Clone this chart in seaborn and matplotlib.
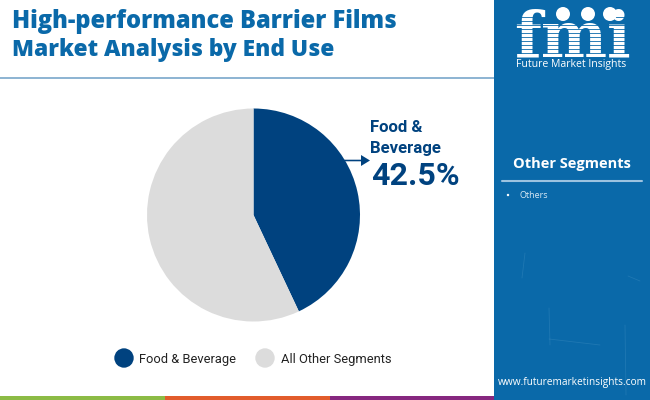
import matplotlib
matplotlib.use("Agg")
import matplotlib.pyplot as plt
from matplotlib.patches import Rectangle, Circle, FancyArrow
from matplotlib.lines import Line2D
import seaborn as sns

categories = ["Food & Beverage", "All Other Segments"]
values = [43.0, 57.0]  # wedge sizes
colors = ["#00427f", "#dcdcdc"]
title_lines = ["High-performance Barrier Films", "Market Analysis by End Use"]
panel_heading = "Other Segments"
panel_items = ["Others"]
callout = ["Food &", "Beverage"]
callout_value = "42.5%"

sns.set_theme(style="white")
plt.rcParams["font.family"] = ["Roboto", "DejaVu Sans"]

BLUE = "#0a69a9"
fig = plt.figure(figsize=(6.5, 4.0), dpi=100, facecolor="white")

bg = fig.add_axes([0, 0, 1, 1])
bg.set_xlim(0, 650)
bg.set_ylim(400, 0)
bg.axis("off")

# Side panel, header rule and bottom stripes
bg.add_patch(Rectangle((494, 0), 156, 400, color=BLUE, lw=0))
bg.add_patch(Rectangle((0, 396), 165, 4, color="#8cbb45", lw=0))
bg.add_patch(Rectangle((165, 396), 165, 4, color="#e25c2c", lw=0))
bg.add_patch(Rectangle((330, 396), 164, 4, color="#86277f", lw=0))
bg.add_patch(Rectangle((0, 76.5), 494, 2, color="#8fb5d3", lw=0))

# Faint scratches in the panel's backdrop
for xs, ys in [((525, 522), (253, 278)), ((628, 640), (276, 281)), ((549, 600), (339, 345)),
               ((625, 626), (325, 395)), ((549, 550), (308, 345))]:
    bg.add_line(Line2D(xs, ys, color="#5fa3cf", lw=0.6, alpha=0.25))

# Title
for y, line, size in zip([22, 50], title_lines, [17.0, 16.4]):
    bg.text(12, y, line, family="Open Sans", fontweight="extra bold", fontsize=size,
            color=BLUE, va="center", ha="left")

# Logo
bg.text(572, 56, "fmi", family="DejaVu Serif", fontweight="bold", fontsize=45,
        color="white", va="baseline", ha="center")
for y in range(17, 56, 4):
    bg.add_line(Line2D([515, 630], [y, y], color=BLUE, lw=0.6, zorder=3))
for x, y in [(563, 14), (588, 14), (610, 14)]:
    bg.add_patch(Circle((x, y), 7, color="white", lw=0, zorder=4))
bg.text(571, 65, "Future Market Insights", fontsize=7.6, color="white",
        ha="center", va="center", family="Open Sans")

# Panel text
bg.text(572, 164, panel_heading, family="Open Sans", fontweight="bold", fontsize=10.5,
        color="white", ha="center", va="center")
bg.add_line(Line2D([502, 642], [181, 181], color="#9cc3e0", lw=1.5))
for y, item in zip([195], panel_items):
    bg.add_patch(Circle((508, y), 1.2, color="white", lw=0))
    bg.text(520, y, item, family="Open Sans", fontsize=6.5, color="#d8e8f4",
            ha="left", va="center")
bg.text(572, 383, "www.futuremarketinsights.com", family="Open Sans", fontsize=7.3,
        color="white", ha="center", va="center")

# Pie
cx, cy, r = 253.5, 215, 106.5
pie_ax = fig.add_axes([(cx - r) / 650, 1 - (cy + r) / 400, 2 * r / 650, 2 * r / 400])
pie_ax.pie(values, colors=colors, startangle=90, counterclock=False, radius=1,
           wedgeprops={"linewidth": 0})
pie_ax.set_xlim(-1, 1)
pie_ax.set_ylim(-1, 1)

# Overlay for callout and legend
top = fig.add_axes([0, 0, 1, 1])
top.set_xlim(0, 650)
top.set_ylim(400, 0)
top.axis("off")
top.patch.set_alpha(0)
top.add_patch(FancyArrow(344, 160.5, 26, 0, width=1.6, head_width=11, head_length=9,
                         length_includes_head=True, color=colors[0], lw=0))
for y, line in zip([127, 148], callout):
    top.text(370, y, line, fontweight="bold", fontsize=12.1, color=colors[0],
             ha="left", va="center")
top.text(371.5, 176, callout_value, fontweight="bold", fontsize=23.1, color=colors[0],
         ha="left", va="center")

# Legend
for mx, tx, name, col in zip([124, 265], [139, 281], categories, colors):
    top.add_patch(Circle((mx, 358), 9.7, color=col, lw=0))
    top.text(tx, 359, name, fontsize=9.3, color="#222222", ha="left", va="center")

fig.savefig("out.png", dpi=100)
